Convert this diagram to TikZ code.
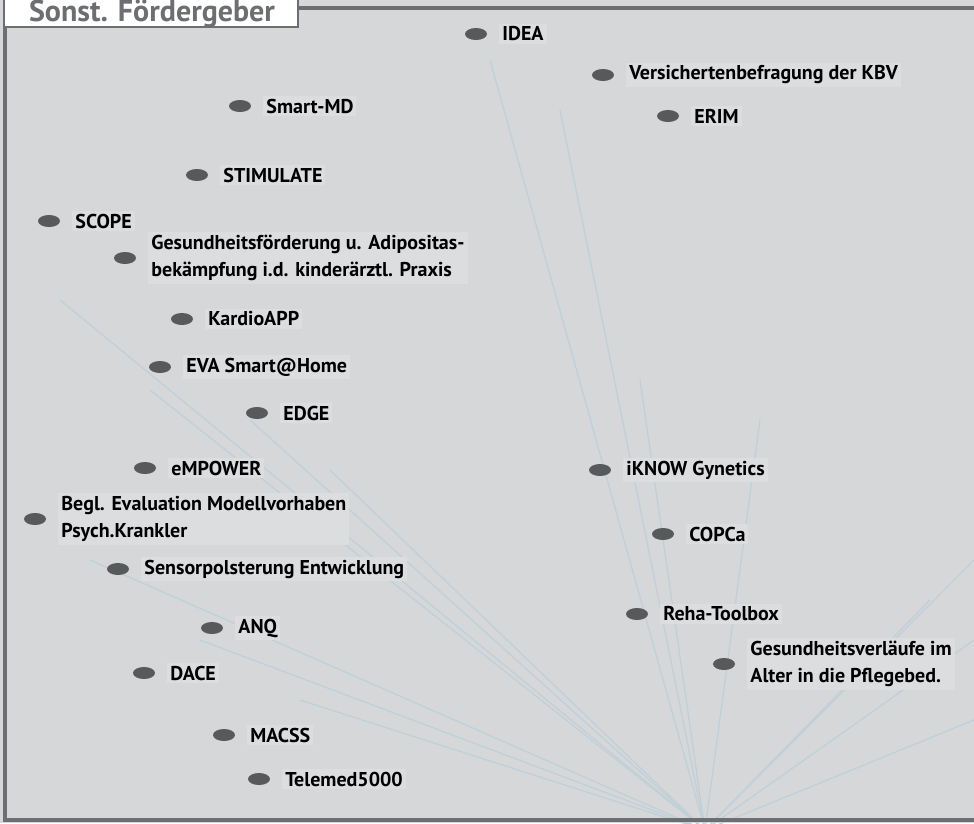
\documentclass[tikz,border=0pt]{standalone}
\usepackage{fontspec}
\setmainfont{PT Sans}
\usetikzlibrary{positioning,shapes.geometric}

\definecolor{rahmen}{HTML}{6D6E71}
\definecolor{grund}{HTML}{D5D7D8}
\definecolor{kasten}{HTML}{DBDDDE}
\definecolor{punktgrau}{HTML}{58595B}
\definecolor{strahl}{HTML}{BFD0D8}

\tikzset{punkt/.style={ellipse,fill=punktgrau,minimum width=22pt,minimum height=12pt,inner sep=0pt},
projekt/.style={fill=kasten,inner sep=3pt,align=left,anchor=west,
	font=\bfseries\fontsize{20}{27}\selectfont},
titel/.style={text=rahmen,inner sep=0pt,
	font=\bfseries\fontsize{30}{30}\selectfont}}

\begin{document}
\begin{tikzpicture}[x=1pt,y=-1pt,node distance=12pt]
\useasboundingbox (0,0) rectangle (974,823);
\fill[grund] (0,0) rectangle (974,823);

% Strahlen im Hintergrund
\coordinate (hub) at (705,830);
\foreach \ziel in {(60,300),(150,390),(250,420),(330,470),(90,560),(200,640),(300,700),
	(490,60),(560,110),(640,380),(760,420),(974,560),(974,640),(974,720),(930,600)}
	\draw[strahl,line width=1.2pt] (hub) -- \ziel;

% Rahmen
\draw[rahmen,line width=4pt] (974,8) -| (5,820) -- (974,820);
\draw[rahmen,line width=2pt,fill=white] (4,-5) rectangle (298,27);
\node[titel] (titel) at (152,14) {Sonst. Fördergeber};

% Projekte rechts
\node[punkt] (idea-p) at (476,34) {};
\node[projekt,right=of idea-p] (idea) {IDEA};
\node[punkt] (kbv-p) at (603,75) {};
\node[projekt,right=of kbv-p] (kbv) {Versichertenbefragung der KBV};
\node[punkt] (erim-p) at (668,116) {};
\node[projekt,right=of erim-p] (erim) {ERIM};
\node[punkt] (iknow-p) at (600,470) {};
\node[projekt,right=of iknow-p] (iknow) {iKNOW Gynetics};
\node[punkt] (copca-p) at (663,534) {};
\node[projekt,right=of copca-p] (copca) {COPCa};
\node[punkt] (reha-p) at (637,614) {};
\node[projekt,right=of reha-p] (reha) {Reha-Toolbox};
\node[punkt] (alter-p) at (724,664) {};
\node[projekt,right=of alter-p] (alter) {Gesundheitsverläufe im\\Alter in die Pflegebed.};

% Projekte links
\node[punkt] (smart-p) at (240,106) {};
\node[projekt,right=of smart-p] (smart) {Smart-MD};
\node[punkt] (stim-p) at (197,175) {};
\node[projekt,right=of stim-p] (stim) {STIMULATE};
\node[punkt] (scope-p) at (49,221) {};
\node[projekt,right=of scope-p] (scope) {SCOPE};
\node[punkt] (adipo-p) at (125,258) {};
\node[projekt,right=of adipo-p] (adipo) {Gesundheitsförderung u. Adipositas-\\bekämpfung i.d. kinderärztl. Praxis};
\node[punkt] (kardio-p) at (182,319) {};
\node[projekt,right=of kardio-p] (kardio) {KardioAPP};
\node[punkt] (eva-p) at (160,367) {};
\node[projekt,right=of eva-p] (eva) {EVA Smart@Home};
\node[punkt] (edge-p) at (257,413) {};
\node[projekt,right=of edge-p] (edge) {EDGE};
\node[punkt] (empower-p) at (145,468) {};
\node[projekt,right=of empower-p] (empower) {eMPOWER};
\node[punkt] (begl-p) at (35,519) {};
\node[projekt,right=of begl-p] (begl) {Begl. Evaluation Modellvorhaben\\Psych.Krankler};
\node[punkt] (sensor-p) at (118,569) {};
\node[projekt,right=of sensor-p] (sensor) {Sensorpolsterung Entwicklung};
\node[punkt] (anq-p) at (212,628) {};
\node[projekt,right=of anq-p] (anq) {ANQ};
\node[punkt] (dace-p) at (144,673) {};
\node[projekt,right=of dace-p] (dace) {DACE};
\node[punkt] (macss-p) at (224,735) {};
\node[projekt,right=of macss-p] (macss) {MACSS};
\node[punkt] (tele-p) at (259,779) {};
\node[projekt,right=of tele-p] (tele) {Telemed5000};
\end{tikzpicture}
\end{document}
